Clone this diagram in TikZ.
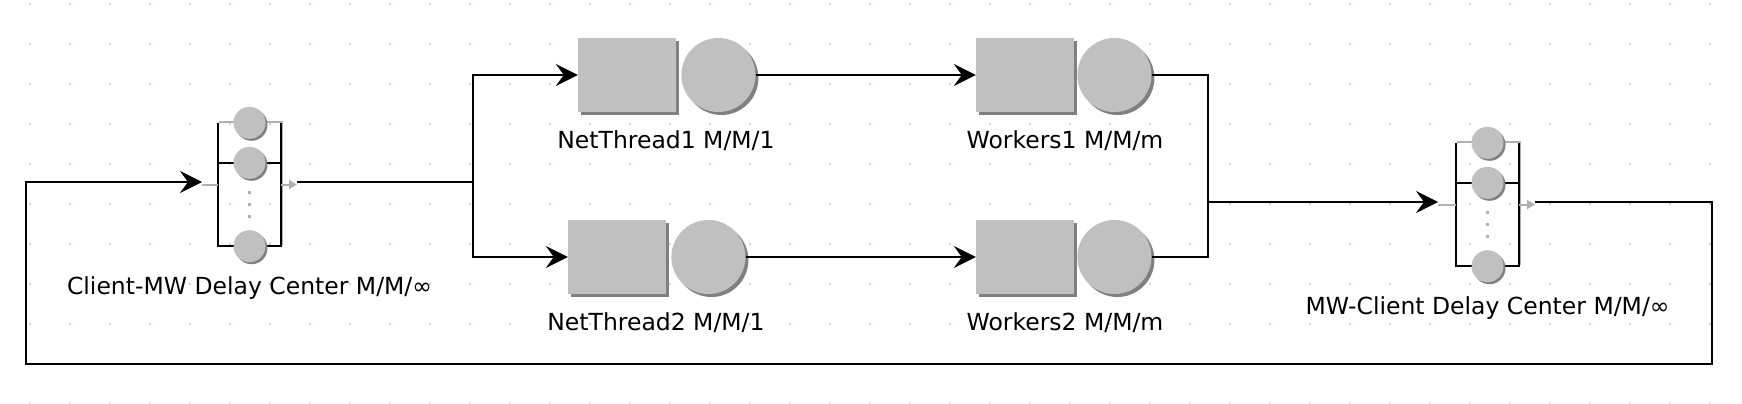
\documentclass[tikz,border=0pt]{standalone}
\usepackage{fontspec}
\setmainfont{DejaVu Sans}
\usetikzlibrary{arrows.meta,positioning,shadows}

\definecolor{jmtfill}{RGB}{192,192,192}
\definecolor{jmtshade}{RGB}{128,128,128}
\definecolor{jmtedge}{RGB}{176,176,176}
\definecolor{jmtgrid}{RGB}{200,210,232}

\tikzset{
  queuebox/.style={rectangle,fill=jmtfill,minimum width=98pt,minimum height=74pt,inner sep=0pt,
    drop shadow={shadow xshift=3pt,shadow yshift=-3pt,fill=jmtshade,opacity=1}},
  server/.style={circle,fill=jmtfill,minimum size=74pt,inner sep=0pt,
    drop shadow={shadow xshift=3pt,shadow yshift=-3pt,fill=jmtshade,opacity=1}},
  delaybox/.style={rectangle,minimum width=63pt,minimum height=123pt,inner sep=0pt},
  slot/.style={circle,fill=jmtfill,minimum size=32pt,inner sep=0pt,
    drop shadow={shadow xshift=2pt,shadow yshift=-2pt,fill=jmtshade,opacity=1}},
  qname/.style={font=\fontsize{23.5}{28}\selectfont,inner sep=0pt,anchor=base},
  wire/.style={line width=2pt},
  flow/.style={wire,-{Stealth[length=22pt,width=22pt,inset=8pt]}},
  stub/.style={line width=2pt,jmtedge},
}

\begin{document}
\begin{tikzpicture}[x=1pt,y=-1pt]
			\useasboundingbox (0,0) rectangle (1742,404);
			% grid of dots
			\foreach \gx in {30,70,...,1710}
				\foreach \gy in {4,44,...,404}
					\fill[jmtgrid] (\gx-1,\gy-1) rectangle ++(2,2);

			% delay centers
			\node[delaybox] (cmw) at (249.5,184.5) {};
			\node[delaybox] (mwc) at (1487.5,204.5) {};
			\foreach \dc in {cmw,mwc}{
				\draw[stub,line width=1.5pt] ([shift={(1pt,1pt)}]\dc.north west) -- ([shift={(1pt,1pt)}]\dc.north east) -- ([shift={(1pt,1pt)}]\dc.south east);
				\draw[wire] (\dc.north west) -- (\dc.south west) -- (\dc.south east) -- (\dc.north east);
				\draw[wire] ([yshift=-40pt]\dc.north west) -- ([yshift=-40pt]\dc.north east);
				\node[slot] (\dc-1) at (\dc.north) {};
				\node[slot] (\dc-2) at ([yshift=-40pt]\dc.north) {};
				\node[slot] (\dc-3) at (\dc.south) {};
				\foreach \k in {7.5,19.5,31.5}
					\fill[jmtedge] ([yshift=-\k pt]\dc.center) ++(-1.5,-1.5) rectangle ++(3,3);
			}
			\coordinate (cmw-in) at (202,182);
			\coordinate (cmw-out) at (297,182);
			\coordinate (mwc-in) at (1438,202);
			\coordinate (mwc-out) at (1535,202);
			\draw[stub] (cmw-in |- cmw.west) -- (cmw.west);
			\draw[stub,-{Triangle[length=8pt,width=9pt]}] (cmw.east) -- (cmw-out |- cmw.east);
			\draw[stub] (mwc-in |- mwc.west) -- (mwc.west);
			\draw[stub,-{Triangle[length=8pt,width=9pt]}] (mwc.east) -- (mwc-out |- mwc.east);

			% queue stations
			\node[queuebox] (nt1q) at (627,75) {};
			\node[server, right=5pt of nt1q] (nt1s) {};
			\node[queuebox] (nt2q) at (617,257) {};
			\node[server, right=5pt of nt2q] (nt2s) {};
			\node[queuebox] (w1q) at (1025,75) {};
			\node[server, right=3pt of w1q] (w1s) {};
			\node[queuebox] (w2q) at (1025,257) {};
			\node[server, right=3pt of w2q] (w2s) {};

			% names
			\node[qname] (cmw-lbl) at (249.5,294) {Client-MW Delay Center M/M/∞};
			\node[qname] (mwc-lbl) at (1487.5,314) {MW-Client Delay Center M/M/∞};
			\node[qname] (nt1-lbl) at (666,148) {NetThread1 M/M/1};
			\node[qname] (nt2-lbl) at (656,330) {NetThread2 M/M/1};
			\node[qname] (w1-lbl) at (1065,148) {Workers1 M/M/m};
			\node[qname] (w2-lbl) at (1065,330) {Workers2 M/M/m};

			% connections
			\coordinate (fork) at (473,182);
			\coordinate (join) at (1208,202);
			\coordinate (loop-r) at (1712,364);
			\coordinate (loop-l) at (26,364);
			\draw[wire] (cmw-out) -- (fork);
			\draw[flow] (fork) |- (nt1q.west);
			\draw[flow] (fork) |- (nt2q.west);
			\draw[flow] (nt1s.east) -- (w1q.west);
			\draw[flow] (nt2s.east) -- (w2q.west);
			\draw[wire] (w1s.east) -| (join);
			\draw[wire] (w2s.east) -| (join);
			\draw[flow] (join) -- (mwc-in);
			\draw[flow] (mwc-out) -| (loop-r) -- (loop-l) |- (cmw-in);
		\end{tikzpicture}
\end{document}
